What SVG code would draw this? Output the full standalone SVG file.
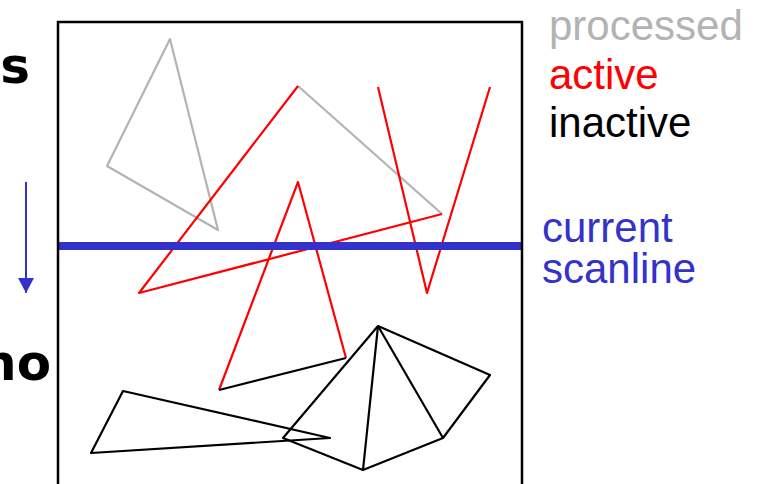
<svg xmlns="http://www.w3.org/2000/svg" width="762" height="484" viewBox="0 0 762 484">
<style>
.g{stroke:#b3b3b3;stroke-width:2.2;fill:none;stroke-linejoin:round}
.r{stroke:#ff0000;stroke-width:2.2;fill:none;stroke-linejoin:round}
.k{stroke:#000;stroke-width:2.2;fill:none;stroke-linejoin:round}
.lbl{font-family:"Liberation Sans",Arial,sans-serif;font-size:42px}
.big{font-family:"DejaVu Sans",sans-serif;font-weight:bold;font-size:50px}
</style>
<defs>
<marker id="ah" markerWidth="16" markerHeight="16" refX="15" refY="8" orient="auto" markerUnits="userSpaceOnUse" viewBox="0 0 16 16">
<path d="M0,0 L15,8 L0,16 Z" fill="#3333cc"/>
</marker>
</defs>
<rect width="762" height="484" fill="#fff"/>
<g id="triangles">
<polygon id="tri-gray" class="g" points="170,39 107,166 218,230"/>
<g id="tri-big">
<line class="g" x1="298" y1="86" x2="442" y2="214"/>
<polyline class="r" points="298,86 139,293 442,214"/>
</g>
<g id="tri-mid">
<polyline class="r" points="346,358 298,182 219,390"/>
<line class="k" x1="219" y1="390" x2="346" y2="358"/>
</g>
<polyline id="tri-v" class="r" points="378,87 427,293 490,87"/>
<polygon id="tri-black" class="k" points="123,391 91,453 330,438"/>
<g id="fan" class="k">
<polygon points="378,326 283,438 363,470 443,438 490,375"/>
<line x1="378" y1="326" x2="363" y2="470"/>
<line x1="378" y1="326" x2="443" y2="438"/>
</g>
</g>
<g id="scanline">
<line x1="58" y1="246" x2="522" y2="246" stroke="#3333cc" stroke-width="8"/>
</g>
<g id="frame">
<path d="M58,490 L58,22 L522,22 L522,490" fill="none" stroke="#000" stroke-width="2.5"/>
</g>
<g id="connectors">
<line x1="26" y1="182" x2="26" y2="293" stroke="#3333cc" stroke-width="2" marker-end="url(#ah)"/>
</g>
<g id="labels">
<text class="big" x="30" y="83" text-anchor="end">s</text>
<text class="big" x="51" y="380" text-anchor="end">no</text>
<text class="lbl" x="549" y="40" fill="#b3b3b3">processed</text>
<text class="lbl" x="549" y="89" fill="#ff0000">active</text>
<text class="lbl" x="549" y="137" fill="#000">inactive</text>
<text class="lbl" x="542" y="242" fill="#3333cc">current</text>
<text class="lbl" x="542" y="283" fill="#3333cc">scanline</text>
</g>
</svg>
